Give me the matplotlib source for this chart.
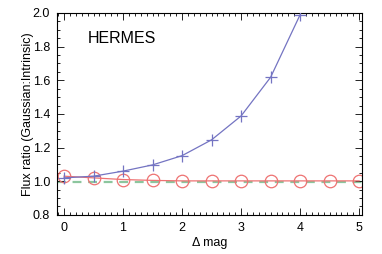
import numpy as np
import matplotlib.pyplot as plt
from matplotlib.ticker import MultipleLocator

plt.rcParams['font.family'] = ['Liberation Sans', 'DejaVu Sans']

# Delta mag steps
dmag_plus = [0, 0.5, 1, 1.5, 2, 2.5, 3, 3.5, 4]
ratio_plus = [1.02, 1.03, 1.06, 1.097, 1.152, 1.246, 1.388, 1.618, 1.99]

dmag_circ = [0, 0.5, 1, 1.5, 2, 2.5, 3, 3.5, 4, 4.5, 5]
ratio_circ = [1.03, 1.02, 1.01, 1.005, 1.002, 1.002, 1.002, 1.002, 1.002, 1.002, 1.002]

ref_x = [-0.12, 5.05]
ref_y = [0.997, 0.997]

blue = '#7474c2'
red = '#ee7272'
green = '#8cc69e'

fig = plt.figure(figsize=(3.82, 2.54), dpi=100)
ax = fig.add_axes([0.149, 0.154, 0.799, 0.795])

ax.plot(ref_x, ref_y, color=green, ls=(0, (4, 3)), lw=1.6, zorder=1)
ax.plot(dmag_circ, ratio_circ, color=red, lw=0.9, marker='o', ms=9,
        mfc='none', mec=red, mew=0.9, zorder=2)
ax.plot(dmag_plus, ratio_plus, color=blue, lw=0.9, marker='+', ms=9,
        mec=blue, mew=0.9, zorder=3)

ax.text(0.4, 1.85, 'HERMES', fontsize=11.5, ha='left', va='center')

ax.set_xlim(-0.12, 5.05)
ax.set_ylim(0.8, 2.0)
ax.xaxis.set_major_locator(MultipleLocator(1))
ax.xaxis.set_minor_locator(MultipleLocator(0.1))
ax.yaxis.set_major_locator(MultipleLocator(0.2))
ax.yaxis.set_minor_locator(MultipleLocator(0.05))
ax.tick_params(which='both', direction='in', top=True, right=True,
               labelsize=9, width=0.6, pad=5)
ax.tick_params(which='major', length=5)
ax.tick_params(which='minor', length=2.5)
ax.yaxis.set_major_formatter(plt.FormatStrFormatter('%.1f'))
for s in ax.spines.values():
    s.set_linewidth(0.8)

ax.set_xlabel('Δ mag', fontsize=9, labelpad=2)
ax.set_ylabel('Flux ratio (Gaussian:Intrinsic)', fontsize=9, labelpad=-1)

fig.savefig('out.png', dpi=100)
